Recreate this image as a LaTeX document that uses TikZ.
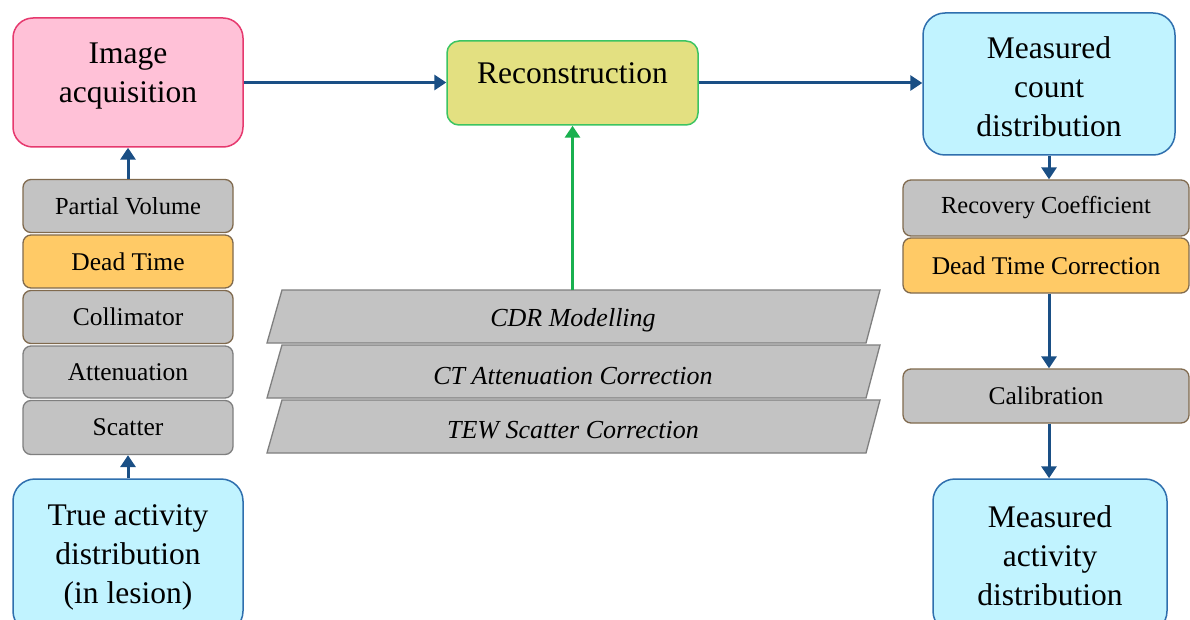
\documentclass[tikz,border=0pt]{standalone}
\usepackage{fontspec}
\setmainfont{Liberation Serif}
\usetikzlibrary{arrows.meta}
\definecolor{pinkfill}{HTML}{FFC1D7}
\definecolor{pinkline}{HTML}{E6396E}
\definecolor{cyanfill}{HTML}{C1F3FF}
\definecolor{cyanline}{HTML}{2F6FAE}
\definecolor{grayfill}{HTML}{C3C3C3}
\definecolor{brownline}{HTML}{806A4E}
\definecolor{grayline}{HTML}{7F7F7F}
\definecolor{orangefill}{HTML}{FFCA66}
\definecolor{reconfill}{HTML}{E3E081}
\definecolor{reconline}{HTML}{3CC462}
\definecolor{arrowblue}{HTML}{1A4F85}
\definecolor{arrowgreen}{HTML}{19B04F}
\begin{document}
\begin{tikzpicture}[x=1pt,y=-1pt,
  bigbox/.style={draw, rounded corners=20pt, line width=1.5pt, inner sep=0pt},
  bigtext/.style={align=center, inner sep=0pt, font=\fontsize{31.5}{39}\selectfont},
  smallbox/.style={draw=brownline, rounded corners=8pt, line width=1.3pt, fill=grayfill, inner sep=0pt, font=\fontsize{25.5}{30}\selectfont},
  para/.style={draw=grayline, line width=1.3pt, fill=grayfill},
  paratext/.style={inner sep=0pt, font=\fontsize{26}{30}\selectfont\itshape},
  flow/.style={line width=3pt, draw=arrowblue, -{Triangle[length=12pt,width=15pt]}},
  gflow/.style={line width=3pt, draw=arrowgreen, -{Triangle[length=12pt,width=15pt]}}]
\useasboundingbox (0,0) rectangle (1190,620);
\clip (0,0) rectangle (1190,620);
\fill[white] (0,0) rectangle (1190,620);

% big boxes
\node[bigbox, draw=pinkline, fill=pinkfill, minimum width=230pt, minimum height=129pt] (acq) at (128,82.5) {};
\node[bigtext] (acqt) at (128,76) {Image\\acquisition};
\node[bigbox, draw=reconline, fill=reconfill, rounded corners=12pt, minimum width=251pt, minimum height=84pt] (recon) at (572.5,83) {};
\node[bigtext] (recont) at (572.5,73) {Reconstruction};
\node[bigbox, draw=cyanline, fill=cyanfill, rounded corners=22pt, minimum width=252pt, minimum height=142pt] (mcount) at (1049,84) {};
\node[bigtext] (mcountt) at (1049,87) {Measured\\count\\distribution};
\node[bigbox, draw=cyanline, fill=cyanfill, rounded corners=22pt, minimum width=230pt, minimum height=154pt] (true) at (128,556) {};
\node[bigtext] (truet) at (128,557) {True activity\\distribution\\(in lesion)};
\node[bigbox, draw=cyanline, fill=cyanfill, rounded corners=22pt, minimum width=234pt, minimum height=154pt] (mact) at (1050,556) {};
\node[bigtext] (mactt) at (1050,556) {Measured\\activity\\distribution};

% left stack
\node[smallbox, minimum width=210pt, minimum height=53pt, font=\fontsize{24.5}{30}\selectfont] (pv) at (128,206) {Partial Volume};
\node[smallbox, fill=orangefill, minimum width=210pt, minimum height=53pt] (dt) at (128,261.5) {Dead Time};
\node[smallbox, minimum width=210pt, minimum height=53pt] (coll) at (128,317) {Collimator};
\node[smallbox, draw=grayline, minimum width=210pt, minimum height=52pt] (att) at (128,372) {Attenuation};
\node[smallbox, draw=grayline, minimum width=210pt, minimum height=54pt] (scat) at (128,427.5) {Scatter};

% right stack
\node[smallbox, minimum width=286pt, minimum height=56pt, font=\fontsize{24.5}{30}\selectfont] (recov) at (1046,208) {Recovery Coefficient};
\node[smallbox, fill=orangefill, minimum width=286pt, minimum height=55pt] (dtc) at (1046,265.5) {Dead Time Correction};
\node[smallbox, minimum width=286pt, minimum height=54pt] (calib) at (1046,396) {Calibration};

% parallelograms
\draw[para] (267,343) -- (282,290) -- (880,290) -- (866,343) -- cycle;
\draw[para] (267,398) -- (282,345) -- (880,345) -- (866,398) -- cycle;
\draw[para] (267,453) -- (282,400) -- (880,400) -- (866,453) -- cycle;
\node[paratext] (cdr) at (573,320) {CDR Modelling};
\node[paratext] (ctac) at (573,376) {CT Attenuation Correction};
\node[paratext] (tew) at (573,430) {TEW Scatter Correction};
\coordinate (cdrtop) at (572.5,290);

% connectors
\draw[flow] (pv.north) -- (acq.south);
\draw[flow] (true.north) -- (scat.south);
\draw[flow] (acq.east) -- (acq.east -| recon.west);
\draw[flow] (recon.east) -- (recon.east -| mcount.west);
\draw[gflow] (cdrtop) -- (recon.south);
\draw[flow] (mcount.south) -- (mcount.south |- recov.north);
\draw[flow] (mcount.south |- dtc.south) -- (mcount.south |- calib.north);
\draw[flow] (mcount.south |- calib.south) -- (mcount.south |- mact.north);
\end{tikzpicture}
\end{document}
